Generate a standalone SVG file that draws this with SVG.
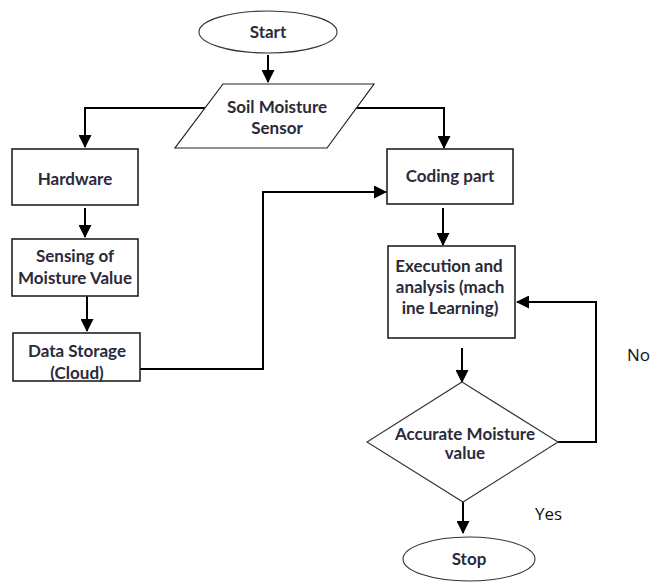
<svg xmlns="http://www.w3.org/2000/svg" width="651" height="582" viewBox="0 0 651 582">
<defs>
<marker id="ah" markerWidth="13" markerHeight="13" viewBox="0 0 13 13" refX="12" refY="6.5" orient="auto" markerUnits="userSpaceOnUse">
<path d="M0,0 L13,6.5 L0,13 Z" fill="#000"/>
</marker>
</defs>
<style>
.box{fill:#fff;stroke:#222;stroke-width:1.6}
.term{fill:#fff;stroke:#333;stroke-width:1.1}
.lbl{font-family:Lato,"Liberation Sans",sans-serif;font-weight:bold;font-size:17px;fill:#2a2a3a;text-anchor:middle}
.yn{font-family:"Open Sans","Liberation Sans",sans-serif;font-size:17px;fill:#111}
.con{fill:none;stroke:#000;stroke-width:2}
</style>
<g id="connectors">
<path class="con" d="M268,55 V82" marker-end="url(#ah)"/>
<path class="con" d="M205,108 H85 V147" marker-end="url(#ah)"/>
<path class="con" d="M356,108 H444 V148" marker-end="url(#ah)"/>
<path class="con" d="M85,208 V237" marker-end="url(#ah)"/>
<path class="con" d="M87,296 V331" marker-end="url(#ah)"/>
<path class="con" d="M140,369 H263 V192 H386" marker-end="url(#ah)"/>
<path class="con" d="M443,208 V245" marker-end="url(#ah)"/>
<path class="con" d="M462,348 V382" marker-end="url(#ah)"/>
<path class="con" d="M558,442 H596 V302 H517" marker-end="url(#ah)"/>
<path class="con" d="M463,502 V533" marker-end="url(#ah)"/>
</g>
<g id="start">
<ellipse class="term" cx="268" cy="32" rx="69" ry="21"/>
<text class="lbl" x="268" y="38">Start</text>
</g>
<g id="sensor">
<polygon class="box" points="223,84 374,84 327,148 175,148" style="stroke-width:1.2"/>
<text class="lbl" x="277" y="113">Soil Moisture</text>
<text class="lbl" x="277" y="134">Sensor</text>
</g>
<g id="hardware">
<rect class="box" x="12" y="149" width="126" height="56"/>
<text class="lbl" x="75" y="185">Hardware</text>
</g>
<g id="sensing">
<rect class="box" x="12" y="239" width="126" height="57"/>
<text class="lbl" x="75" y="262">Sensing of</text>
<text class="lbl" x="75" y="284">Moisture Value</text>
</g>
<g id="storage">
<rect class="box" x="13" y="333" width="127" height="48"/>
<text class="lbl" x="77" y="357">Data Storage</text>
<text class="lbl" x="77" y="379">(Cloud)</text>
</g>
<g id="coding">
<rect class="box" x="387" y="149" width="126" height="55"/>
<text class="lbl" x="450" y="182">Coding part</text>
</g>
<g id="execution">
<rect class="box" x="388" y="246" width="127" height="92"/>
<text class="lbl" x="449" y="272">Execution and</text>
<text class="lbl" x="450" y="293">analysis (mach</text>
<text class="lbl" x="450" y="314">ine Learning)</text>
</g>
<g id="decision">
<polygon class="term" points="462,382 558,442 463,502 367,442"/>
<text class="lbl" x="465" y="440">Accurate Moisture</text>
<text class="lbl" x="465" y="459">value</text>
</g>
<g id="stop">
<ellipse class="term" cx="469" cy="559" rx="66" ry="22"/>
<text class="lbl" x="469" y="565">Stop</text>
</g>
<text class="yn" x="627" y="361">No</text>
<text class="yn" x="535" y="520">Yes</text>
</svg>
